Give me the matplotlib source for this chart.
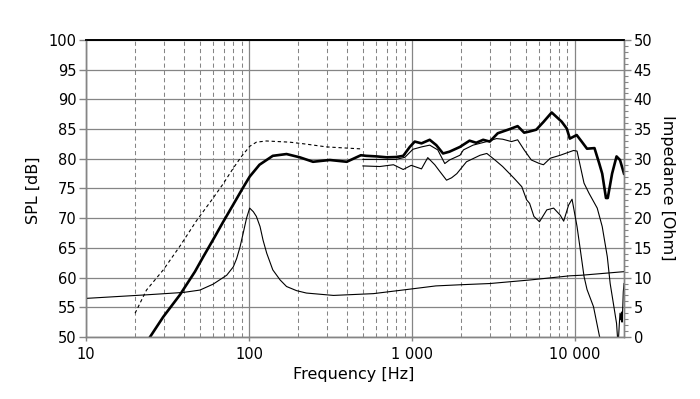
import matplotlib
matplotlib.use("Agg")
import matplotlib.pyplot as plt
from matplotlib.ticker import FixedLocator, FuncFormatter, MultipleLocator, NullFormatter

# ---- data ----
main_f = [24.7, 29.8, 37.7, 46.6, 52.4, 60.3, 69.5, 80.1, 92.2, 101, 116, 140, 170, 205, 247, 313, 398, 486, 524,
          609, 700, 800, 884, 970, 1040, 1144, 1285, 1410, 1551, 1700, 1970, 2255, 2480, 2735,
          3000, 3360, 3980, 4450, 4880, 5270, 5790, 6410, 7200, 8290, 8910, 9300, 10250, 11000,
          11860, 13180, 14100, 14700, 15500, 15900, 16900, 18000, 18900, 20000]
main_db = [50.0, 53.4, 57.1, 61.0, 63.5, 66.4, 69.4, 72.3, 75.2, 77.0, 79.0, 80.5, 80.8, 80.25, 79.5, 79.8, 79.5, 80.6, 80.5,
           80.4, 80.25, 80.3, 80.5, 82.0, 82.9, 82.6, 83.2, 82.3, 80.9, 81.2, 82.0, 83.05, 82.7, 83.2,
           82.9, 84.3, 85.0, 85.5, 84.4, 84.6, 84.9, 86.2, 87.8, 86.25, 85.1, 83.4, 84.0, 82.9,
           81.7, 81.8, 79.2, 77.5, 73.4, 73.4, 77.5, 80.4, 79.8, 77.5]

dash_f = [20, 23.5, 29.8, 37.7, 47.7, 60.3, 69.5, 80, 90, 101, 111, 128, 178, 220, 300, 400, 500]
dash_db = [54.0, 57.9, 61.3, 65.3, 69.6, 73.4, 75.8, 78.4, 80.4, 82.1, 82.8, 83.0, 82.8, 82.5, 82.0, 81.8, 81.65]

imp_f = [10, 23.5, 39.5, 50, 60.3, 73, 80.1, 84, 88.2, 92, 96.6, 101, 106.3, 111, 116.9, 122, 128.5,
         140, 155.3, 170, 196, 225, 330, 580, 1000, 1400, 2000, 3000, 5300, 9300, 11000, 20000]
imp_ohm = [6.5, 7.1, 7.5, 7.9, 8.9, 10.4, 11.8, 13.2, 15.2, 17.4, 20.0, 21.7, 21.1, 20.3, 18.6, 16.3, 14.1,
           11.3, 9.6, 8.5, 7.8, 7.4, 7.0, 7.3, 8.1, 8.6, 8.8, 9.0, 9.6, 10.3, 10.4, 11.0]

offA_f = [500, 635, 800, 905, 1013, 1144, 1285, 1440, 1590, 1700, 1970, 2070, 2370, 2880, 3300,
          3600, 4080, 4450, 4880, 5400, 6060, 6410, 7060, 8130, 9800, 10300, 11370, 12200, 13700,
          14700, 15800, 16450, 17200, 18000, 18400, 18700, 18900, 19100, 19300, 19450, 19650, 19800, 20000]
offA_db = [79.9, 79.9, 79.9, 80.25, 81.6, 82.0, 82.3, 81.5, 79.2, 79.8, 80.6, 81.5, 82.3, 82.9, 83.4,
           83.3, 82.9, 83.2, 81.5, 79.8, 79.2, 79.0, 80.1, 80.6, 81.4, 81.3, 75.9, 74.2, 71.7,
           68.6, 63.5, 59.0, 55.7, 52.3, 48.5, 52.0, 54.0, 52.9, 54.2, 52.5, 55.0, 57.6, 59.0]

offB_f = [500, 635, 770, 884, 990, 1144, 1250, 1380, 1470, 1630, 1750, 1885, 2160, 2620, 2880, 3230,
          3600, 4240, 4720, 5050, 5270, 5600, 6060, 6720, 7400, 8130, 8530, 9140, 9600, 10300,
          10800, 11370, 11860, 13000, 14100, 14600]
offB_db = [78.8, 78.7, 79.0, 78.2, 78.9, 78.3, 80.2, 79.0, 78.0, 76.4, 76.8, 77.5, 79.5, 80.6, 80.9, 79.8,
           78.7, 76.7, 75.3, 73.1, 72.5, 70.3, 69.4, 71.4, 71.7, 70.5, 69.5, 72.2, 73.2, 68.6,
           64.6, 60.2, 58.0, 55.1, 50.3, 48.5]

x_major = [10, 100, 1000, 10000]
x_major_labels = ["10", "100", "1 000", "10 000"]
spl_ticks = list(range(50, 101, 5))
imp_ticks = list(range(0, 51, 5))

# ---- figure ----
W, H = 700, 399
fig = plt.figure(figsize=(7.0, 3.99), dpi=100)
ax = fig.add_axes([86 / W, 1 - 337 / H, (624 - 86) / W, (337 - 40) / H])
ax2 = ax.twinx()

gray = "#858585"
ax.set_xscale("log")
ax.set_xlim(10, 20000)
ax.set_ylim(50, 100)
ax2.set_ylim(0, 50)

minors = [m * d for d in [10, 100, 1000] for m in range(2, 10)] + [20000]
ax.xaxis.set_major_locator(FixedLocator(x_major))
ax.xaxis.set_major_formatter(FuncFormatter(
    lambda v, p: x_major_labels[x_major.index(int(round(v)))] if int(round(v)) in x_major else ""))
ax.xaxis.set_minor_locator(FixedLocator(minors))
ax.xaxis.set_minor_formatter(NullFormatter())
ax.yaxis.set_major_locator(FixedLocator(spl_ticks))
ax2.yaxis.set_major_locator(FixedLocator(imp_ticks))
ax2.yaxis.set_minor_locator(MultipleLocator(1))

ax.grid(True, which="major", axis="both", color=gray, lw=0.9, ls="-")
ax.grid(True, which="minor", axis="x", color=gray, lw=0.75, ls=(0, (4, 3)))
ax.set_axisbelow(True)

for a in (ax, ax2):
    for s in ("left", "right", "bottom"):
        a.spines[s].set_color(gray)
        a.spines[s].set_linewidth(1.0)
    a.spines["top"].set_color("black")
    a.spines["top"].set_linewidth(1.2)

ax.tick_params(axis="y", which="major", length=5, width=1, color=gray, labelsize=10.5, pad=2)
ax.tick_params(axis="x", which="major", length=3, width=1, color=gray, labelsize=10.5, pad=4)
ax.tick_params(axis="x", which="minor", length=0)
ax2.tick_params(axis="y", which="major", length=5, width=1, color=gray, labelsize=10.5, pad=2)
ax2.tick_params(axis="y", which="minor", length=3, width=0.8, color=gray)

ax.plot(main_f, main_db, color="black", lw=1.9, solid_joinstyle="round")
ax.plot(dash_f, dash_db, color="black", lw=0.8, ls=(0, (3, 2.5)))
ax.plot(offA_f, offA_db, color="black", lw=0.8)
ax.plot(offB_f, offB_db, color="black", lw=0.8)
ax2.plot(imp_f, imp_ohm, color="black", lw=0.8)

fig.text(33 / W, 1 - 190 / H, "SPL [dB]", rotation=90, ha="center", va="center", fontsize=11.5)
fig.text(667 / W, 1 - 188 / H, "Impedance [Ohm]", rotation=-90, ha="center", va="center", fontsize=11.5)
fig.text(354 / W, 1 - 375 / H, "Frequency [Hz]", ha="center", va="center", fontsize=11.5)

fig.savefig("out.png", dpi=100)
